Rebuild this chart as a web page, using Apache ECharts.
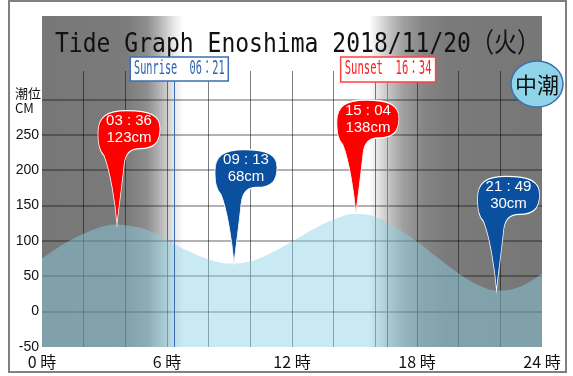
<!DOCTYPE html>
<html>
<head>
<meta charset="utf-8">
<script src="https://cdn.jsdelivr.net/npm/echarts@6/dist/echarts.min.js"></script>
<style>
html,body{margin:0;padding:0;background:#fff}
#main{width:573px;height:376px}
</style>
</head>
<body>
<div id="main"></div>
<script>
// hourly tide level (cm)
var hours  = [0,1,2,3,4,5,6,7,8,9,10,11,12,13,14,15,16,17,18,19,20,21,22,23,24];
var levels = [75,95,110,121,122,116,101,86,74,68,71,83,99,116,130,138,134,118,99,76,54,37,30,36,54];

// high / low tides
var tideTimes  = ['03:36','09:13','15:04','21:49'];
var tideLevels = [123, 68, 138, 30];
var tideKinds  = ['high','low','high','low'];

var sunrise = '06:21';
var sunset  = '16:34';
var tideName = '中潮';
var titleText = 'Tide Graph Enoshima 2018/11/20（火）';

function toHour(s) {
    var p = s.split(':');
    return +p[0] + p[1] / 60;
}

(function () {
    // curve points: hourly values plus the extremes
    var curve = [];
    for (var i = 0; i < hours.length; i++) curve.push([hours[i], levels[i]]);
    for (var j = 0; j < tideTimes.length; j++) curve.push([toHour(tideTimes[j]), tideLevels[j]]);
    curve.sort(function (a, b) { return a[0] - b[0]; });

    // balloon with a tail, tip at (19,114)
    var pinPath = 'path://M19 114C17 90 12 60 6 45C1 40 0 32 0 22C0 6 9 0 29 0C52 0 62 5 62 18C62 32 56 38 42 38C32 38 27 43 26 55C24 75 21 95 19 114Z';

    var pins = [];
    for (var k = 0; k < tideTimes.length; k++) {
        pins.push({
            coord: [toHour(tideTimes[k]), tideLevels[k]],
            itemStyle: { color: tideKinds[k] == 'high' ? '#ff0000' : '#0b4f9f' },
            label: { formatter: tideTimes[k].replace(':', ' : ') + '\n' + tideLevels[k] + 'cm' }
        });
    }

    var chart = echarts.init(document.getElementById('main'));

    chart.setOption({
        animation: false,
        backgroundColor: '#fff',
        grid: { left: 42, right: 31, top: 71, bottom: 29 },
        xAxis: {
            type: 'value', min: 0, max: 24, interval: 2,
            axisLine: { show: false }, axisTick: { show: false },
            splitLine: { show: true, showMinLine: false, showMaxLine: false,
                lineStyle: { color: 'rgba(0,0,0,0.5)', width: 1 } },
            axisLabel: {
                margin: 7, color: '#111', fontSize: 16, fontFamily: 'Noto Sans CJK JP',
                showMinLabel: true, showMaxLabel: true,
                formatter: function (v) { return v % 6 === 0 ? v + ' 時' : ''; }
            }
        },
        yAxis: {
            type: 'value', min: -50, max: 340, interval: 50,
            axisLine: { show: false }, axisTick: { show: false },
            splitLine: { show: true, showMinLine: false, showMaxLine: false,
                lineStyle: { color: 'rgba(0,0,0,0.3)', width: 2 } },
            axisLabel: {
                margin: 3, color: '#111', fontSize: 14, fontFamily: 'Liberation Sans',
                showMaxLabel: false,
                formatter: function (v) { return v >= 300 ? '' : String(v); }
            }
        },
        series: [{
            type: 'line',
            data: curve,
            smooth: 0.4,
            symbol: 'none',
            lineStyle: { width: 0 },
            areaStyle: { origin: 'start', color: 'rgba(140,210,228,0.66)' },
            markLine: {
                silent: true, symbol: 'none', label: { show: false },
                data: [
                    { xAxis: toHour(sunrise), lineStyle: { color: '#3a6fb5', width: 1, type: 'solid' } },
                    { xAxis: toHour(sunset), lineStyle: { color: '#ff5050', width: 1, type: 'solid' } }
                ]
            },
            markPoint: {
                silent: true,
                symbol: pinPath,
                symbolSize: [62, 114],
                symbolOffset: [12, -57],
                itemStyle: { borderColor: '#fff', borderWidth: 1 },
                label: {
                    show: true, position: 'inside', offset: [0, -38],
                    color: '#fff', fontSize: 15, lineHeight: 17, fontFamily: 'Liberation Sans'
                },
                data: pins
            }
        }]
    });

    function px(h, v) { return chart.convertToPixel({ gridIndex: 0 }, [h, v]); }

    var pl = px(0, -50), pr = px(24, 340);
    var gLeft = pl[0], gBottom = pl[1], gRight = pr[0], gTop = pr[1];
    var w = gRight - gLeft;
    function stop(h) { return (px(h, 0)[0] - gLeft) / w; }
    var rise = toHour(sunrise), set = toHour(sunset);

    var bg = new echarts.graphic.LinearGradient(0, 0, 1, 0, [
        { offset: 0, color: '#777' },
        { offset: stop(rise - 2.3), color: '#7b7b7b' },
        { offset: stop(rise - 1.3), color: '#8e8e8e' },
        { offset: stop(rise - 0.65), color: '#b8b8b8' },
        { offset: stop(rise), color: '#e8e8e8' },
        { offset: stop(rise + 0.45), color: '#fff' },
        { offset: stop(set - 0.85), color: '#fff' },
        { offset: stop(set), color: '#c8c8c8' },
        { offset: stop(set + 0.75), color: '#a0a0a0' },
        { offset: stop(set + 1.75), color: '#858585' },
        { offset: stop(set + 2.9), color: '#7a7a7a' },
        { offset: 1, color: '#777' }
    ]);

    var rx = px(rise, 0)[0], sx = px(set, 0)[0];

    chart.setOption({
        graphic: [
            { type: 'rect', z: -10, silent: true,
              shape: { x: gLeft, y: 16, width: w, height: gBottom - 16 },
              style: { fill: bg } },
            { type: 'rect', z: 50, silent: true,
              shape: { x: 9, y: 1, width: 557, height: 371 },
              style: { fill: null, stroke: '#808080', lineWidth: 2 } },
            { type: 'text', z: 50, silent: true, x: 55, y: 45, scaleX: 0.853,
              style: { text: titleText, font: '27px "DejaVu Sans Mono", "Noto Sans CJK JP"',
                       fill: '#111', textAlign: 'left', textVerticalAlign: 'middle' } },
            { type: 'rect', z: 50, silent: true,
              shape: { x: rx + 5 - 49, y: gTop - 14, width: 98, height: 24 },
              style: { fill: '#fff', stroke: '#3a6fb5', lineWidth: 1.5 } },
            { type: 'text', z: 51, silent: true, x: rx + 5, y: gTop - 2, scaleX: 0.54,
              style: { text: 'Sunrise  ' + sunrise.replace(':', '：'), font: '19px "DejaVu Sans Mono", "Noto Sans CJK JP"',
                       fill: '#2e63b0', textAlign: 'center', textVerticalAlign: 'middle' } },
            { type: 'rect', z: 50, silent: true,
              shape: { x: sx + 1 - 47.5, y: gTop - 14, width: 95, height: 25 },
              style: { fill: '#fff', stroke: '#ff4040', lineWidth: 1.5 } },
            { type: 'text', z: 51, silent: true, x: sx + 1, y: gTop - 1.5, scaleX: 0.555,
              style: { text: 'Sunset  ' + sunset.replace(':', '：'), font: '19px "DejaVu Sans Mono", "Noto Sans CJK JP"',
                       fill: '#ff2020', textAlign: 'center', textVerticalAlign: 'middle' } },
            { type: 'ellipse', z: 50, silent: true,
              shape: { cx: gRight - 5, cy: gTop + 13, rx: 26, ry: 23 },
              style: { fill: '#8fd4e8', stroke: '#3a6fb0', lineWidth: 1.5 } },
            { type: 'text', z: 51, silent: true, x: gRight - 5, y: gTop + 14,
              style: { text: tideName, font: '22px "Noto Sans CJK JP"', fill: '#111',
                       textAlign: 'center', textVerticalAlign: 'middle' } },
            { type: 'text', z: 50, silent: true, x: 15, y: px(0, 300)[1] - 14,
              style: { text: '潮位\nCM', font: '13px "Noto Sans CJK JP"', lineHeight: 15, fill: '#111',
                       textAlign: 'left', textVerticalAlign: 'top' } }
        ]
    });
})();
</script>
</body>
</html>
